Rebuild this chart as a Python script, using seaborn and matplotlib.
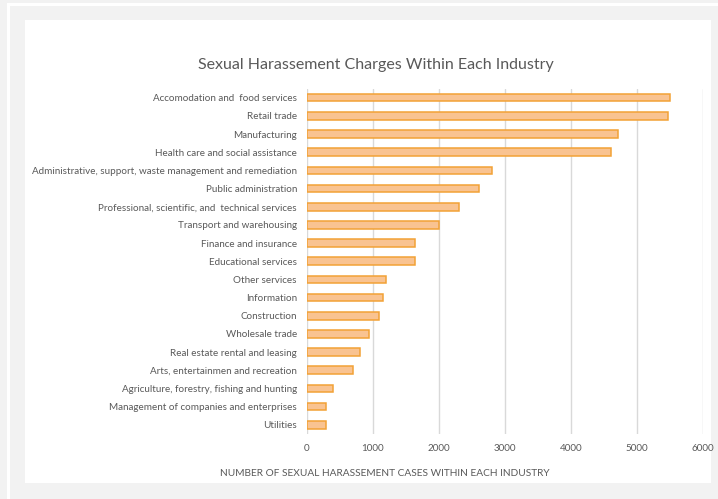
import matplotlib
matplotlib.use("Agg")
import matplotlib.pyplot as plt
import seaborn as sns
import pandas as pd
from matplotlib.patches import Rectangle

industries = [
    "Accomodation and  food services",
    "Retail trade",
    "Manufacturing",
    "Health care and social assistance",
    "Administrative, support, waste management and remediation",
    "Public administration",
    "Professional, scientific, and  technical services",
    "Transport and warehousing",
    "Finance and insurance",
    "Educational services",
    "Other services",
    "Information",
    "Construction",
    "Wholesale trade",
    "Real estate rental and leasing",
    "Arts, entertainmen and recreation",
    "Agriculture, forestry, fishing and hunting",
    "Management of companies and enterprises",
    "Utilities",
]
charges = [5500, 5470, 4710, 4600, 2800, 2600, 2310, 2000, 1640, 1640,
           1200, 1160, 1100, 940, 800, 700, 400, 290, 290]
xticks = [0, 1000, 2000, 3000, 4000, 5000, 6000]

title = "Sexual Harassement Charges Within Each Industry"
xlabel = "NUMBER OF SEXUAL HARASSEMENT CASES WITHIN EACH INDUSTRY"

sns.set_theme(style="white")
plt.rcParams["font.family"] = ["Lato", "DejaVu Sans"]

W, H = 718, 499
fig = plt.figure(figsize=(W / 100, H / 100), dpi=100, facecolor="#f2f2f2")

# decorative frame (drawn beneath the axes)
for x0, y0, w, h in [(7, 0, 3, H - 3), (7, H - 6, W - 7, 3), (25, H - 483, 686, 463)]:
    fig.patches.append(Rectangle((x0 / W, y0 / H), w / W, h / H, transform=fig.transFigure,
                                 facecolor="white", edgecolor="none", zorder=-5))

ax_l, ax_r, ax_t, ax_b = 306.7, 703.3, 88.6, 433.8
ax = fig.add_axes([ax_l / W, (H - ax_b) / H, (ax_r - ax_l) / W, (ax_b - ax_t) / H])
ax.set_facecolor("none")
ax.set_zorder(2)

df = pd.DataFrame({"industry": industries, "charges": charges})
sns.barplot(data=df, x="charges", y="industry", orient="h", ax=ax,
            color="#f9c391", edgecolor="#f2a236", linewidth=1.1,
            saturation=1, width=0.42, zorder=3)

ax.set_xlim(0, 6000)
ax.set_xticks(xticks)
ax.set_xticklabels([str(t) for t in xticks])
ax.xaxis.grid(True, color="#d9d9d9", linewidth=1, zorder=0)
ax.yaxis.grid(False)
ax.set_axisbelow(True)
for s in ax.spines.values():
    s.set_visible(False)
ax.tick_params(axis="both", length=0, colors="#595959", labelsize=7.1)
ax.tick_params(axis="y", pad=7)
ax.tick_params(axis="x", pad=7)
ax.set_xlabel("")
ax.set_ylabel("")

fig.text(376 / W, 1 - 65 / H, title, ha="center", va="center", fontsize=11.5, color="#595959")
fig.text(385 / W, 1 - 474 / H, xlabel, ha="center", va="center", fontsize=7.3, color="#595959")

fig.savefig("out.png", dpi=100, facecolor=fig.get_facecolor())
